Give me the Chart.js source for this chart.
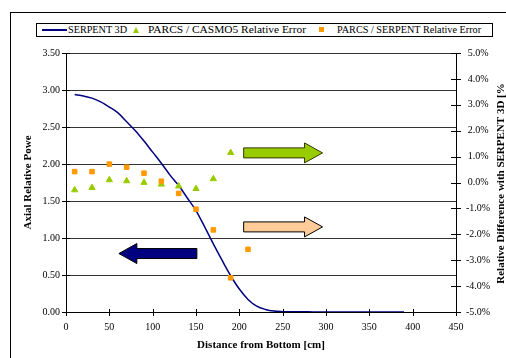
<!DOCTYPE html>
<html>
<head>
<meta charset="utf-8">
<script src="https://cdn.jsdelivr.net/npm/chart.js@4.4.1/dist/chart.umd.min.js"></script>
<style>
  html, body { margin: 0; padding: 0; background: #fff; }
  #wrap { position: relative; width: 506px; height: 358px; overflow: hidden; }
  #frame { position: absolute; left: 10px; top: 12px; width: 600px; height: 400px;
           border-left: 1px solid #000; border-top: 1px solid #000; }
  #chart { position: absolute; left: 0; top: 0; }
  #legend { position: absolute; left: 36px; top: 23px; width: 455px; height: 12px;
            border: 1px solid #000; background: #fff;
            font: 10.5px "Liberation Serif", serif; color: #000; }
  #legend span { position: absolute; }
  #legend .txt { top: -1px; line-height: 13px; white-space: nowrap; transform-origin: 0 50%; }
</style>
</head>
<body>
<div id="wrap">
  <div id="frame"></div>
  <canvas id="chart" width="506" height="358"></canvas>
  <div id="legend"></div>
</div>
<script>
// data
const seriesNames = ['SERPENT 3D', 'PARCS / CASMO5 Relative Error', 'PARCS / SERPENT Relative Error'];

const distance = [10, 20, 30, 40, 50, 60, 70, 80, 90, 100, 110, 120, 130, 140, 150, 160, 170, 180, 190, 200,
                  210, 220, 230, 240, 250, 260, 270, 280, 290, 300, 310, 320, 330, 340, 350, 360, 370, 380, 390];
const serpentPower = [2.94, 2.92, 2.89, 2.84, 2.77, 2.69, 2.57, 2.45, 2.31, 2.16, 2.01, 1.85, 1.71, 1.54, 1.37, 1.15, 0.92, 0.70, 0.49, 0.31,
                      0.17, 0.08, 0.035, 0.012, 0.005, 0.003, 0.002, 0.002, 0.001, 0.001, 0.001, 0.001, 0.001, 0.001, 0.001, 0.001, 0.001, 0.001, 0.001];

const errDistance = [10, 30, 50, 70, 90, 110, 130, 150, 170, 190, 210];
const casmoErr = [-0.29, -0.20, 0.10, 0.06, 0.00, -0.07, -0.14, -0.24, 0.14, 1.15];
const serpentErr = [0.42, 0.42, 0.71, 0.59, 0.36, 0.05, -0.42, -1.03, -1.83, -3.68, -2.58];

const colors = ['#000080', '#99CC00', '#FF9900'];

// block arrows drawn on the plot (x in cm, level on left axis)
const arrows = [
  { from: 205, to: 296, level: 2.15, fill: '#99CC00', stroke: '#333300' },
  { from: 205, to: 296, level: 1.15, fill: '#FFCC99', stroke: '#000000' },
  { from: 151, to: 61, level: 0.79, fill: '#000080', stroke: '#000000' }
];

Chart.defaults.font.family = '"Liberation Serif", "Times New Roman", serif';
Chart.defaults.font.size = 10;
Chart.defaults.color = '#000';

const arrowPlugin = {
  id: 'arrows',
  afterDatasetsDraw(chart) {
    const ctx = chart.ctx, xs = chart.scales.x, ys = chart.scales.y;
    arrows.forEach(a => {
      const x0 = xs.getPixelForValue(a.from), x1 = xs.getPixelForValue(a.to);
      const y = ys.getPixelForValue(a.level);
      const d = x1 > x0 ? 1 : -1, hb = x1 - d * 18;
      ctx.save();
      ctx.beginPath();
      ctx.moveTo(x0, y - 5);
      ctx.lineTo(hb, y - 5);
      ctx.lineTo(hb, y - 10);
      ctx.lineTo(x1, y);
      ctx.lineTo(hb, y + 10);
      ctx.lineTo(hb, y + 5);
      ctx.lineTo(x0, y + 5);
      ctx.closePath();
      ctx.fillStyle = a.fill;
      ctx.fill();
      ctx.lineWidth = 1;
      ctx.strokeStyle = a.stroke;
      ctx.stroke();
      ctx.restore();
    });
  }
};

// excel style ticks crossing the axes + right axis title
const axisPlugin = {
  id: 'axisExtras',
  afterDraw(chart) {
    const ctx = chart.ctx, area = chart.chartArea;
    ctx.save();
    ctx.strokeStyle = '#000';
    ctx.lineWidth = 1;
    ctx.beginPath();
    chart.scales.x.ticks.forEach(t => {
      const px = Math.round(chart.scales.x.getPixelForValue(t.value)) + 0.5;
      ctx.moveTo(px, area.bottom - 3);
      ctx.lineTo(px, area.bottom + 4);
    });
    chart.scales.y.ticks.forEach(t => {
      const py = Math.round(chart.scales.y.getPixelForValue(t.value)) + 0.5;
      ctx.moveTo(area.left - 4, py);
      ctx.lineTo(area.left + 4, py);
    });
    chart.scales.y2.ticks.forEach(t => {
      const py = Math.round(chart.scales.y2.getPixelForValue(t.value)) + 0.5;
      ctx.moveTo(area.right - 5, py);
      ctx.lineTo(area.right + 5, py);
    });
    ctx.stroke();

    ctx.translate(area.right + 45, (area.top + area.bottom) / 2 + 1);
    ctx.rotate(-Math.PI / 2);
    ctx.font = 'bold 11px "Liberation Serif", serif';
    ctx.fillStyle = '#000';
    ctx.textAlign = 'center';
    ctx.textBaseline = 'middle';
    ctx.fillText('Relative Difference with SERPENT 3D [%', 0, 0);
    ctx.restore();
  }
};

const chart = new Chart(document.getElementById('chart').getContext('2d'), {
  data: {
    datasets: [
      {
        type: 'line',
        label: seriesNames[0],
        data: distance.map((d, i) => ({ x: d, y: serpentPower[i] })),
        borderColor: colors[0],
        borderWidth: 1.5,
        pointRadius: 0,
        cubicInterpolationMode: 'monotone',
        yAxisID: 'y',
        order: 3
      },
      {
        type: 'scatter',
        label: seriesNames[1],
        data: casmoErr.map((v, i) => ({ x: errDistance[i], y: v })),
        pointStyle: 'triangle',
        pointRadius: 3.6,
        backgroundColor: colors[1],
        borderColor: colors[1],
        borderWidth: 1,
        yAxisID: 'y2',
        order: 2
      },
      {
        type: 'scatter',
        label: seriesNames[2],
        data: serpentErr.map((v, i) => ({ x: errDistance[i], y: v })),
        pointStyle: 'rect',
        pointRadius: 3.2,
        backgroundColor: colors[2],
        borderColor: colors[2],
        borderWidth: 1,
        yAxisID: 'y2',
        order: 1
      }
    ]
  },
  options: {
    responsive: false,
    animation: false,
    devicePixelRatio: 1,
    layout: { padding: { top: 53, left: 0, right: 0, bottom: 0 } },
    plugins: { legend: { display: false }, tooltip: { enabled: false } },
    scales: {
      x: {
        type: 'linear',
        min: 0, max: 450,
        ticks: { stepSize: 50, padding: 9, maxRotation: 0 },
        grid: { drawOnChartArea: false, drawTicks: false },
        border: { color: '#000', width: 1 },
        title: { display: true, text: 'Distance from Bottom [cm]', font: { weight: 'bold', size: 11 }, padding: { top: 0, bottom: 6 } },
        afterFit: s => { s.height = 46; }
      },
      y: {
        position: 'left',
        min: 0, max: 3.5,
        ticks: { stepSize: 0.5, padding: 6, callback: v => v.toFixed(2) },
        grid: { color: '#333333', drawTicks: false },
        border: { color: '#000', width: 1 },
        title: { display: true, text: 'Axial Relative Powe', font: { weight: 'bold', size: 11 }, padding: { top: 22, bottom: 0 } },
        afterFit: s => { s.width = 66; }
      },
      y2: {
        position: 'right',
        min: -5, max: 5,
        ticks: { stepSize: 1, padding: 10, crossAlign: 'center', callback: v => v.toFixed(1) + '%' },
        grid: { drawOnChartArea: false, drawTicks: false },
        border: { color: '#000', width: 1 },
        afterFit: s => { s.width = 50; }
      }
    }
  },
  plugins: [arrowPlugin, axisPlugin]
});

// legend box like the excel one (text squeezed to the widths seen in the picture)
const legend = document.getElementById('legend');
const legendPos = [{ mark: 5, text: 31, w: 59 }, { mark: 96, text: 111, w: 158 }, { mark: 282, text: 300, w: 144 }];
chart.data.datasets.forEach((ds, i) => {
  const m = document.createElement('span');
  if (i === 0) {
    m.style.cssText = `left:${legendPos[i].mark}px;top:5px;width:25px;height:0;border-top:2px solid ${colors[0]};`;
  } else if (i === 1) {
    m.style.cssText = `left:${legendPos[i].mark}px;top:3px;width:0;height:0;border-left:3px solid transparent;border-right:3px solid transparent;border-bottom:6px solid ${colors[1]};`;
  } else {
    m.style.cssText = `left:${legendPos[i].mark}px;top:3px;width:5px;height:5px;background:${colors[2]};`;
  }
  legend.appendChild(m);
  const t = document.createElement('span');
  t.className = 'txt';
  t.style.left = legendPos[i].text + 'px';
  t.textContent = ds.label;
  legend.appendChild(t);
  const w = t.getBoundingClientRect().width;
  if (w > 0) t.style.transform = `scaleX(${(legendPos[i].w / w).toFixed(3)})`;
});
</script>
</body>
</html>
